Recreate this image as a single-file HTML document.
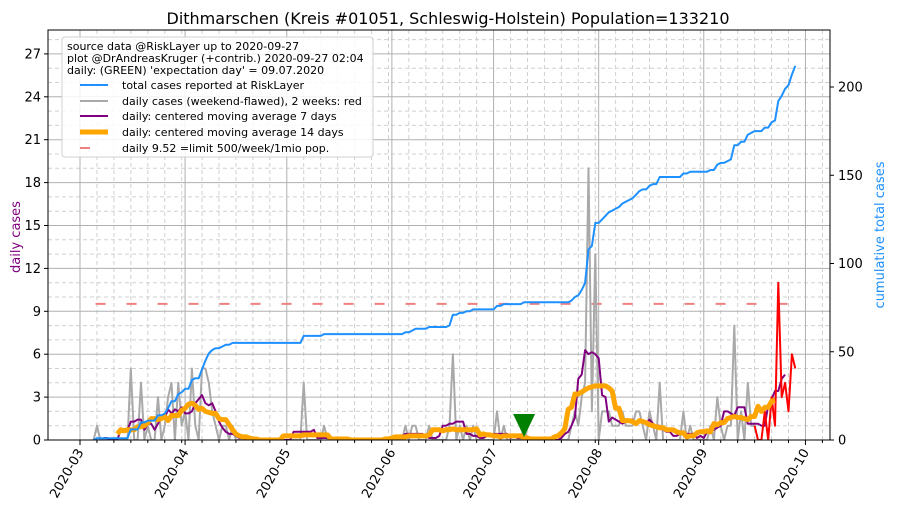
<!DOCTYPE html>
<html><head><meta charset="utf-8">
<style>
html,body{margin:0;padding:0;background:#fff;}
svg{display:block;font-family:"DejaVu Sans","Liberation Sans",sans-serif;}
</style></head>
<body>
<svg id="chart" width="897" height="516" viewBox="0 0 897 516" xmlns="http://www.w3.org/2000/svg">
<rect x="0" y="0" width="897" height="516" fill="#fff"/>
<defs><clipPath id="plotclip"><rect x="48" y="30" width="782" height="410"/></clipPath></defs>
<g id="grid"></g>
<g id="series" clip-path="url(#plotclip)"></g>
<rect x="48" y="30" width="782" height="410" fill="none" stroke="#000" stroke-width="1"/>
<g id="axes"></g>
<text x="448" y="24" font-size="16" text-anchor="middle">Dithmarschen (Kreis #01051, Schleswig-Holstein) Population=133210</text>
<text x="0" y="0" font-size="13" fill="#800080" text-anchor="middle" transform="translate(20,237) rotate(-90)">daily cases</text>
<text x="0" y="0" font-size="13" fill="#1e90ff" text-anchor="middle" transform="translate(884,235) rotate(-90)">cumulative total cases</text>
<g>
<rect x="62" y="37" width="311" height="120" rx="3" fill="#fff" fill-opacity="0.85" stroke="#d0d0d0"/>
<text x="67" y="50" font-size="11">source data @RiskLayer up to 2020-09-27</text>
<text x="67" y="62" font-size="11">plot @DrAndreasKruger (+contrib.) 2020-09-27 02:04</text>
<text x="67" y="74" font-size="11">daily: (GREEN) 'expectation day' = 09.07.2020</text>
<g><line x1="80" y1="85" x2="108" y2="85" stroke="#1e90ff" stroke-width="2"/><text x="122" y="89" font-size="11">total cases reported at RiskLayer</text></g>
<g><line x1="80" y1="101" x2="108" y2="101" stroke="#a9a9a9" stroke-width="2"/><text x="122" y="105" font-size="11">daily cases (weekend-flawed), 2 weeks: red</text></g>
<g><line x1="80" y1="116" x2="108" y2="116" stroke="#800080" stroke-width="2"/><text x="122" y="120" font-size="11">daily: centered moving average 7 days</text></g>
<g><line x1="80" y1="132" x2="108" y2="132" stroke="#ffa500" stroke-width="5"/><text x="122" y="136" font-size="11">daily: centered moving average 14 days</text></g>
<g><line x1="80" y1="148" x2="90" y2="148" stroke="#f08080" stroke-width="2"/><text x="122" y="152" font-size="11">daily 9.52 =limit 500/week/1mio pop.</text></g>
</g>
</svg>
<script>
// ---- data ----
const firstDay = 4; // days after 2020-03-01 of first value (2020-03-05)
const dailyCases = [
0,1,0,0,0,0,0,0,0,0,0,
5,0,0,4,0,1,0,0,3,0,
1,3,4,0,4,1,2,0,5,1,
0,5,5,4,2,1,0,1,1,0,
1,0,0,0,0,0,0,0,0,0,
0,0,0,0,0,0,0,0,0,0,
0,4,0,0,0,0,0,1,0,0,
0,0,0,0,0,0,0,0,0,0,
0,0,0,0,0,0,0,0,0,0,
0,1,0,1,1,0,0,0,1,0,
0,0,0,0,1,6,0,1,0,1,
0,1,0,0,0,0,0,0,2,0,
1,0,0,0,0,0,1,0,0,0,
0,0,0,0,0,0,0,0,0,0,
1,2,1,3,4,19,2,13,0,2,
2,2,1,1,1,2,1,1,1,2,
2,1,0,2,1,0,4,0,0,0,
0,0,0,2,0,1,0,0,0,0,
0,1,0,3,1,0,1,1,8,0,
2,0,4,1,1,0,0,2,0,3,
1,11,3,4,2,6,5
];
const limitValue = 9.52;
const expectationDay = 131; // 2020-07-10 offset from 2020-03-01
const monthLabels = ["2020-03","2020-04","2020-05","2020-06","2020-07","2020-08","2020-09","2020-10"];
const monthStarts = [0,31,61,92,122,153,184,214];
const monthLengths = [31,30,31,30,31,31,30,31];
const leftTicks = [0,3,6,9,12,15,18,21,24,27];
const rightTicks = [0,50,100,150,200];

// ---- scales ----
const X0=80, PXD=3.39;
function xOf(d){return X0+d*PXD;}
function yL(v){return 440-v*14.3;}
function yR(c){return 440-c*1.765;}
const NS="http://www.w3.org/2000/svg";
function mk(tag,attrs,parent){const e=document.createElementNS(NS,tag);for(const k in attrs)e.setAttribute(k,attrs[k]);parent.appendChild(e);return e;}
const grid=document.getElementById('grid'), series=document.getElementById('series'), axes=document.getElementById('axes');

for(let v=1;v<=28;v++){ if(v%3===0) continue;
  const l=mk('line',{x1:48,x2:830,y1:yL(v),y2:yL(v),stroke:'#d0d0d0','stroke-width':1,'stroke-dasharray':'4,3'},grid);
  
  
}
monthStarts.forEach((s,i)=>{ for(let k=1;k<=6;k++){ const dd=5*k; if(dd>=monthLengths[i]) break; const x=xOf(s+dd); if(x>830) break;
  const l=mk('line',{x1:x,x2:x,y1:30,y2:440,stroke:'#d0d0d0','stroke-width':1,'stroke-dasharray':'4,3'},grid);
  
  
  const t=mk('line',{x1:x,x2:x,y1:440,y2:443,stroke:'#000','stroke-width':1},axes);
  
  
}});
leftTicks.forEach(v=>{
  const l=mk('line',{x1:48,x2:830,y1:yL(v),y2:yL(v),stroke:'#b0b0b0','stroke-width':1},grid);
  
  
  const t=mk('line',{x1:44,x2:48,y1:yL(v),y2:yL(v),stroke:'#000'},axes);
  
  
  const tx=mk('text',{x:41,y:yL(v)+4.5,'font-size':13,'text-anchor':'end'},axes);
  tx.textContent=v;
  
  
});
monthStarts.forEach((s,i)=>{ const x=xOf(s);
  const l=mk('line',{x1:x,x2:x,y1:30,y2:440,stroke:'#b0b0b0','stroke-width':1},grid);
  
  
  const t=mk('line',{x1:x,x2:x,y1:440,y2:445,stroke:'#000'},axes);
  
  
  const tx=mk('text',{x:0,y:0,'font-size':13,'text-anchor':'end',transform:`translate(${x+4},${452}) rotate(-60)`},axes);
  tx.textContent=monthLabels[i];
  
  
});
rightTicks.forEach(c=>{
  const t=mk('line',{x1:830,x2:834,y1:yR(c),y2:yR(c),stroke:'#000'},axes);
  
  
  const tx=mk('text',{x:838,y:yR(c)+4.5,'font-size':13},axes);
  tx.textContent=c;
  
  
});

// ---- derived series ----
const n=dailyCases.length;
const cum=[]; let s=0; for(let i=0;i<n;i++){s+=dailyCases[i];cum.push(s);}
function pts(arr,yf,i0,i1){const p=[];for(let i=i0;i<=i1;i++){if(arr[i]==null)continue;p.push(xOf(firstDay+i).toFixed(1)+','+yf(arr[i]).toFixed(1));}return p.join(' ');}
const ma7=[],ma14=[];
for(let i=0;i<n;i++){
  if(i>=3&&i<=n-4){let t=0;for(let j=i-3;j<=i+3;j++)t+=dailyCases[j];ma7[i]=t/7;} else ma7[i]=null;
  if(i>=7&&i<=n-7){let t=0;for(let j=i-7;j<=i+6;j++)t+=dailyCases[j];ma14[i]=t/14;} else ma14[i]=null;
}
const lim=mk('line',{x1:xOf(firstDay)+2,x2:xOf(firstDay+n-1),y1:yL(limitValue),y2:yL(limitValue),stroke:'#f08080','stroke-width':2,'stroke-dasharray':'10,21'},series);


const redStart=n-13;
const g=mk('polyline',{points:pts(dailyCases,yL,0,redStart),fill:'none',stroke:'#a9a9a9','stroke-width':2,'stroke-linejoin':'round'},series);


const p7=mk('polyline',{points:pts(ma7,yL,0,n-1),fill:'none',stroke:'#800080','stroke-width':2,'stroke-linejoin':'round'},series);


const r=mk('polyline',{points:pts(dailyCases,yL,redStart,n-1),fill:'none',stroke:'#ff0000','stroke-width':2,'stroke-linejoin':'round'},series);


const p14=mk('polyline',{points:pts(ma14,yL,0,n-1),fill:'none',stroke:'#ffa500','stroke-width':5,'stroke-linejoin':'round'},series);


const pc=mk('polyline',{points:pts(cum,yR,0,n-1),fill:'none',stroke:'#1e90ff','stroke-width':2,'stroke-linejoin':'round'},series);


const ex=xOf(expectationDay);
const tri=mk('polygon',{points:`${ex-11},414 ${ex+11},414 ${ex},437`,fill:'#008000'},series);


</script>
</body></html>
